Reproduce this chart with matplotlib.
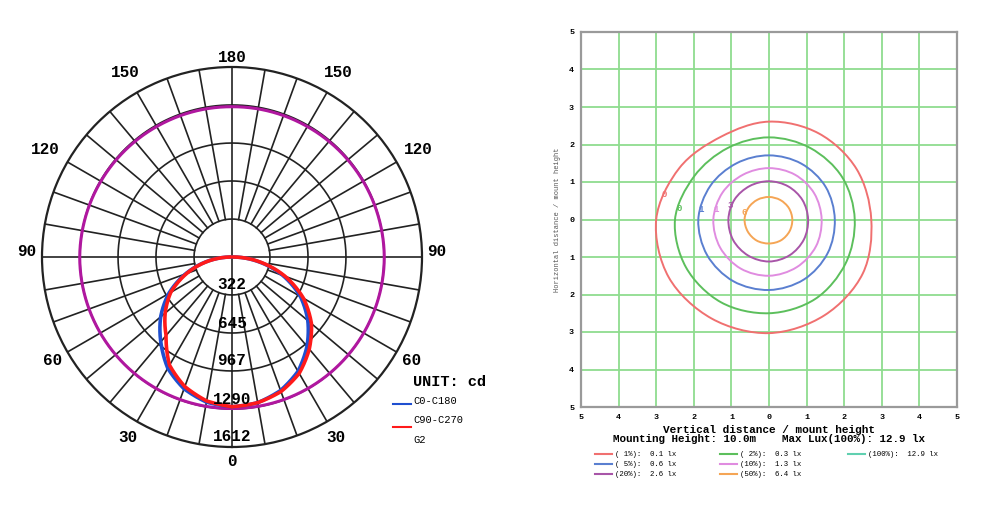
import numpy as np
import matplotlib.pyplot as plt
from matplotlib.path import Path
from matplotlib.patches import PathPatch

# ---- polar candela diagram ----
ring_values = [322, 645, 967, 1290, 1612]
angle_labels = [0, 30, 60, 90, 120, 150, 180]

gamma = [0, 10, 20, 30, 40, 50, 60, 70, 80, 90]
c0_left = [1270, 1250, 1190, 1090, 940, 790, 620, 420, 215, 10]
c180_right = [1270, 1255, 1205, 1120, 990, 840, 670, 460, 230, 10]
c90_left = [1270, 1240, 1170, 1060, 870, 740, 600, 410, 210, 10]
c270_right = [1270, 1255, 1215, 1140, 1020, 880, 700, 480, 240, 10]

g2_angles = [0, 30, 60, 90, 120, 150, 180, 210, 240, 270, 300, 330, 360]
g2_values = [1285, 1288, 1290, 1292, 1285, 1278, 1275, 1278, 1285, 1292, 1290, 1288, 1285]

# ---- isolux diagram ----
contour_angles = [0, 30, 60, 90, 120, 150, 180, 210, 240, 270, 300, 330]
contour_names = ["1%", "2%", "5%", "10%", "20%", "50%"]
contour_radii = {
    "1%":  [2.72, 2.69, 2.65, 2.61, 2.55, 2.75, 3.00, 3.08, 3.05, 3.03, 2.95, 2.88],
    "2%":  [2.28, 2.25, 2.20, 2.19, 2.20, 2.30, 2.50, 2.55, 2.55, 2.50, 2.45, 2.35],
    "5%":  [1.75, 1.74, 1.72, 1.71, 1.73, 1.80, 1.88, 1.90, 1.90, 1.88, 1.85, 1.80],
    "10%": [1.40, 1.39, 1.38, 1.37, 1.38, 1.43, 1.48, 1.50, 1.51, 1.50, 1.47, 1.44],
    "20%": [1.04, 1.03, 1.02, 1.02, 1.03, 1.06, 1.08, 1.10, 1.11, 1.12, 1.10, 1.07],
    "50%": [0.62, 0.61, 0.60, 0.60, 0.61, 0.63, 0.65, 0.65, 0.65, 0.64, 0.64, 0.63],
}
contour_colors = {"1%": "#f07070", "2%": "#5cbf5c", "5%": "#5a7fd0",
                  "10%": "#e08ce0", "20%": "#a855a8", "50%": "#f5a555", "100%": "#60d0b0"}
label_pos = {"1%": (-2.79, 0.67), "2%": (-2.39, 0.29), "5%": (-1.80, 0.26),
             "10%": (-1.42, 0.27), "20%": (-1.03, 0.36), "50%": (-0.65, 0.19)}
label_txt = {"1%": "0", "2%": "0", "5%": "1", "10%": "1", "20%": "3", "50%": "6"}
legend_rows = [("1%", "( 1%):  0.1 lx"), ("2%", "( 2%):  0.3 lx"), ("100%", "(100%):  12.9 lx"),
               ("5%", "( 5%):  0.6 lx"), ("10%", "(10%):  1.3 lx"), (None, ""),
               ("20%", "(20%):  2.6 lx"), ("50%", "(50%):  6.4 lx")]
ticks = [-5, -4, -3, -2, -1, 0, 1, 2, 3, 4, 5]

mono = "Liberation Mono"
W, H = 988, 525
fig = plt.figure(figsize=(9.88, 5.25), dpi=100)

cx0, cy0 = 232, 257
ax = fig.add_axes([(cx0 - 190) / W, (H - cy0 - 190) / H, 380 / W, 380 / H], projection="polar")
ax.set_theta_zero_location("S")
ax.set_ylim(0, 1612)
ax.set_xticks([])
ax.set_yticks([])
ax.grid(False)
ax.spines["polar"].set_linewidth(1.6)
ax.spines["polar"].set_color("#222222")

full = np.linspace(0, 2 * np.pi, 361)
for rv in ring_values[:-1]:
    ax.plot(full, np.full_like(full, rv), color="#222222", lw=1.2, zorder=1)
for a in range(0, 360, 10):
    t = np.deg2rad(a)
    start = 0 if a % 90 == 0 else ring_values[0]
    ax.plot([t, t], [start, 1612], color="#222222", lw=1.2, zorder=1)


def polar_curve(theta, r, color, lw, z):
    p = Path(np.column_stack([theta, r]), _interpolation_steps=40)
    ax.add_patch(PathPatch(p, fill=False, edgecolor=color, lw=lw, zorder=z,
                           transform=ax.transData, capstyle="round", joinstyle="round"))


g = np.deg2rad(gamma)
polar_curve(np.deg2rad(g2_angles), g2_values, "#b0179f", 2.2, 3)
polar_curve(2 * np.pi - g, c0_left, "#1f4fd0", 2.6, 4)
polar_curve(g, c180_right, "#1f4fd0", 2.6, 4)
polar_curve(2 * np.pi - g, c90_left, "#ff1a1a", 2.6, 5)
polar_curve(g, c270_right, "#ff1a1a", 2.6, 5)

for rv in ring_values:
    ax.text(0, rv - 85, str(rv), ha="center", va="center", fontsize=11.5,
            family=mono, weight="bold", zorder=6)

# label placement: (radius in px, upward shift in px) per angle
label_place = {0: (204, 0), 30: (208, 0), 60: (207, 0), 90: (205, 6),
               120: (215, 0), 150: (213, 0), 180: (200, 0)}
for a in angle_labels:
    rp, up = label_place[a]
    for sgn in ([1] if a in (0, 180) else [1, -1]):
        t = np.deg2rad(a)
        px = cx0 + sgn * rp * np.sin(t)
        py = cy0 + rp * np.cos(t) - up
        fig.text(px / W, 1 - py / H, str(a), ha="center", va="center",
                 fontsize=11.5, family=mono, weight="bold")

fig.text(413 / W, 1 - 382 / H, "UNIT: cd", fontsize=11, family=mono,
         weight="bold", va="center")
fig.text(413 / W, 1 - 401 / H, "C0-C180", fontsize=7.5, family=mono, va="center")
fig.text(413 / W, 1 - 420 / H, "C90-C270", fontsize=7.5, family=mono, va="center")
fig.text(413 / W, 1 - 440 / H, "G2", fontsize=7.5, family=mono, va="center")
fig.add_artist(plt.Line2D([393 / W, 411 / W], [1 - 404 / H] * 2, color="#1f4fd0", lw=1.5))
fig.add_artist(plt.Line2D([393 / W, 411 / W], [1 - 427 / H] * 2, color="#ff1a1a", lw=1.5))

# ---- isolux axes ----
bx = fig.add_axes([581 / W, 118 / H, 376 / W, 375 / H])
bx.set_xlim(-5, 5)
bx.set_ylim(-5, 5)
bx.set_xticks(ticks)
bx.set_yticks(ticks)
bx.set_xticklabels([str(abs(t)) for t in ticks], family=mono, weight="bold", fontsize=6)
bx.set_yticklabels([str(abs(t)) for t in ticks], family=mono, weight="bold", fontsize=6)
bx.tick_params(length=0, pad=5)
bx.grid(True, color="#8fdc8f", lw=1.3)
bx.set_axisbelow(True)
for s in bx.spines.values():
    s.set_color("#9a9a9a")
    s.set_linewidth(1.6)
bx.set_ylabel("Horizontal distance / mount height", fontsize=5, family=mono,
              color="#555555", labelpad=6)
bx.set_xlabel("Vertical distance / mount height", fontsize=8, family=mono,
              weight="bold", labelpad=3)

ang = np.deg2rad(contour_angles)
for name in contour_names:
    r = np.array(contour_radii[name])
    pts = np.column_stack([r * np.cos(ang), r * np.sin(ang)])
    n = len(pts)
    verts = [pts[0]]
    codes = [Path.MOVETO]
    for i in range(n):
        p0, p1, p2, p3 = pts[i - 1], pts[i], pts[(i + 1) % n], pts[(i + 2) % n]
        verts += [p1 + (p2 - p0) / 6, p2 - (p3 - p1) / 6, p2]
        codes += [Path.CURVE4] * 3
    bx.add_patch(PathPatch(Path(verts, codes), fill=False,
                           edgecolor=contour_colors[name], lw=1.4, zorder=3))
    lx, ly = label_pos[name]
    bx.text(lx, ly, label_txt[name], fontsize=6.5, family=mono, weight="bold",
            color=contour_colors[name], ha="center", va="center", zorder=4)

fig.text(769 / W, 1 - 439 / H, "Mounting Height: 10.0m    Max Lux(100%): 12.9 lx",
         fontsize=7.8, family=mono, weight="bold", ha="center", va="center")

col_x = [595, 720, 848]
row_y = [454, 464, 474]
for k, (key, txt) in enumerate(legend_rows):
    if key is None:
        continue
    lx0, ry = col_x[k % 3], row_y[k // 3]
    fig.add_artist(plt.Line2D([lx0 / W, (lx0 + 17) / W], [1 - ry / H] * 2,
                              color=contour_colors[key], lw=1.5))
    fig.text((lx0 + 20) / W, 1 - ry / H, txt, fontsize=5.3, family=mono, va="center")

fig.savefig("out.png", dpi=100)
